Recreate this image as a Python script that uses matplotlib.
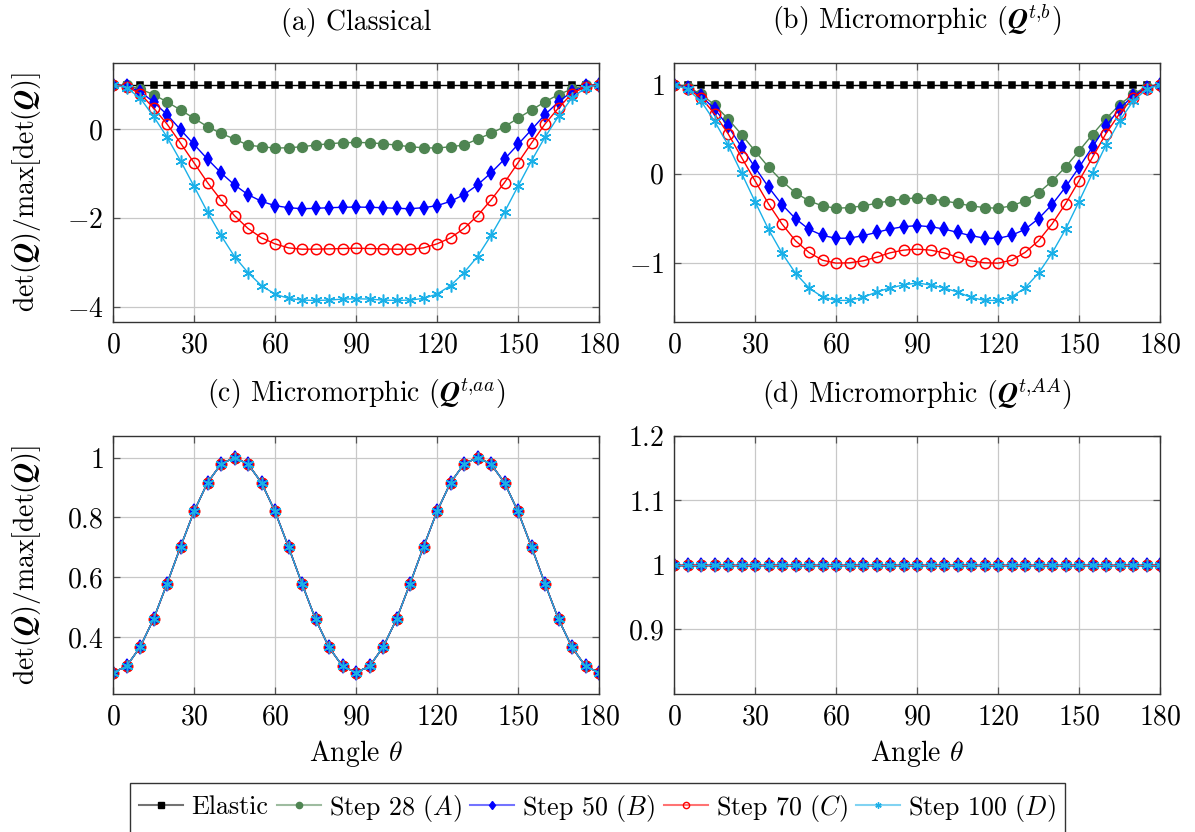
import matplotlib
matplotlib.use("Agg")
import matplotlib.pyplot as plt
from matplotlib.lines import Line2D
from matplotlib.ticker import FuncFormatter

plt.rcParams["font.family"] = ["cmr10"]
plt.rcParams["mathtext.fontset"] = "cm"
plt.rcParams["axes.formatter.use_mathtext"] = True

# ---- data: det(Q)/max[det(Q)] vs. angle ----
angles = [0, 5, 10, 15, 20, 25, 30, 35, 40, 45, 50, 55, 60, 65, 70, 75, 80, 85, 90,
          95, 100, 105, 110, 115, 120, 125, 130, 135, 140, 145, 150, 155, 160, 165, 170, 175, 180]

# (a) classical
elastic_a = [1.0] * 37
step28_a = [1.0, 0.98, 0.90, 0.776, 0.61, 0.429, 0.241, 0.052, -0.099, -0.227, -0.363, -0.40, -0.43,
            -0.423, -0.40, -0.363, -0.333, -0.31, -0.303, -0.31, -0.333, -0.363, -0.40, -0.423,
            -0.43, -0.40, -0.363, -0.227, -0.099, 0.052, 0.241, 0.429, 0.61, 0.776, 0.90, 0.98, 1.0]
step50_a = [1.0, 0.965, 0.844, 0.61, 0.324, -0.016, -0.348, -0.679, -0.989, -1.26, -1.479, -1.63,
            -1.728, -1.773, -1.796, -1.788, -1.773, -1.765, -1.758, -1.765, -1.773, -1.788, -1.796,
            -1.773, -1.728, -1.63, -1.479, -1.26, -0.989, -0.679, -0.348, -0.016, 0.324, 0.61,
            0.844, 0.965, 1.0]
step70_a = [1.0, 0.95, 0.799, 0.474, 0.112, -0.317, -0.762, -1.207, -1.60, -1.954, -2.241, -2.452,
            -2.588, -2.678, -2.708, -2.708, -2.70, -2.693, -2.686, -2.693, -2.70, -2.708, -2.708,
            -2.678, -2.588, -2.452, -2.241, -1.954, -1.60, -1.207, -0.762, -0.317, 0.112, 0.474,
            0.799, 0.95, 1.0]
step100_a = [1.0, 0.927, 0.701, 0.286, -0.182, -0.717, -1.29, -1.871, -2.399, -2.874, -3.236, -3.53,
             -3.719, -3.817, -3.855, -3.862, -3.855, -3.832, -3.825, -3.832, -3.855, -3.862, -3.855,
             -3.817, -3.719, -3.53, -3.236, -2.874, -2.399, -1.871, -1.29, -0.717, -0.182, 0.286,
             0.701, 0.927, 1.0]

# (b) micromorphic Q^{t,b}
elastic_b = [1.0] * 37
step28_b = [1.0, 0.977, 0.891, 0.774, 0.616, 0.44, 0.256, 0.075, -0.083, -0.214, -0.304, -0.361,
            -0.387, -0.38, -0.361, -0.331, -0.304, -0.282, -0.271, -0.282, -0.304, -0.331, -0.361,
            -0.38, -0.387, -0.361, -0.304, -0.214, -0.083, 0.075, 0.256, 0.44, 0.616, 0.774, 0.891,
            0.977, 1.0]
step50_b = [1.0, 0.966, 0.872, 0.729, 0.534, 0.301, 0.071, -0.15, -0.346, -0.504, -0.624, -0.691,
            -0.725, -0.722, -0.695, -0.658, -0.62, -0.594, -0.582, -0.594, -0.62, -0.658, -0.695,
            -0.722, -0.725, -0.691, -0.624, -0.504, -0.346, -0.15, 0.071, 0.301, 0.534, 0.729,
            0.872, 0.966, 1.0]
step70_b = [1.0, 0.955, 0.853, 0.673, 0.451, 0.184, -0.079, -0.338, -0.564, -0.752, -0.883, -0.97,
            -1.003, -0.999, -0.977, -0.936, -0.887, -0.857, -0.846, -0.857, -0.887, -0.936, -0.977,
            -0.999, -1.003, -0.97, -0.883, -0.752, -0.564, -0.338, -0.079, 0.184, 0.451, 0.673,
            0.853, 0.955, 1.0]
step100_b = [1.0, 0.947, 0.815, 0.59, 0.323, 0.008, -0.312, -0.624, -0.891, -1.116, -1.281, -1.383,
             -1.421, -1.421, -1.387, -1.327, -1.281, -1.248, -1.225, -1.248, -1.281, -1.327, -1.387,
             -1.421, -1.421, -1.383, -1.281, -1.116, -0.891, -0.624, -0.312, 0.008, 0.323, 0.59,
             0.815, 0.947, 1.0]

# (c) micromorphic Q^{t,aa}: all load steps coincide
curve_c = [0.283, 0.304, 0.367, 0.461, 0.579, 0.702, 0.82, 0.916, 0.978, 1.0, 0.978, 0.916, 0.82,
           0.702, 0.579, 0.461, 0.367, 0.304, 0.283, 0.304, 0.367, 0.461, 0.579, 0.702, 0.82,
           0.916, 0.978, 1.0, 0.978, 0.916, 0.82, 0.702, 0.579, 0.461, 0.367, 0.304, 0.283]

# (d) micromorphic Q^{t,AA}: constant
curve_d = [1.0] * 37

panels = [
    ("(a) Classical", [elastic_a, step28_a, step50_a, step70_a, step100_a], [-4, -2, 0], None),
    (r"(b) Micromorphic ($\boldsymbol{Q}^{t{,}b}$)",
     [elastic_b, step28_b, step50_b, step70_b, step100_b], [-1, 0, 1], None),
    (r"(c) Micromorphic ($\boldsymbol{Q}^{t{,}aa}$)", [curve_c] * 5, [0.4, 0.6, 0.8, 1], None),
    (r"(d) Micromorphic ($\boldsymbol{Q}^{t{,}AA}$)", [curve_d] * 5, [0.9, 1, 1.1, 1.2], (0.8, 1.2)),
]

series_labels = ["Elastic", r"Step 28 ($A$)", r"Step 50 ($B$)", r"Step 70 ($C$)", r"Step 100 ($D$)"]
colors = ["black", "#4f8552", "#0000ff", "#ff0000", "#1ab0e8"]
markers = ["s", "o", "d", "o", (6, 2, 0)]
msizes = [5, 7, 7, 7.5, 8.5]
faces = ["black", "#4f8552", "#0000ff", "none", "#1ab0e8"]

W, H = 1195, 832
fig = plt.figure(figsize=(W / 100, H / 100), dpi=100)

# axes boxes in pixels: left, top, right, bottom
boxes = [(113, 63, 599, 322), (674, 63, 1160, 322), (113, 436, 599, 694), (674, 436, 1160, 694)]
fs = 20
ylab = r"$\det(\boldsymbol{Q})/\max[\det(\boldsymbol{Q})]$"

for i, ((title, ys, yticks, ylim), (l, t, r, b)) in enumerate(zip(panels, boxes)):
    ax = fig.add_axes([l / W, 1 - b / H, (r - l) / W, (b - t) / H])
    for y, c, m, ms, fc in zip(ys, colors, markers, msizes, faces):
        ax.plot(angles, y, color=c, lw=1.0, marker=m, ms=ms, mfc=fc, mec=c, mew=1.1)
    ax.set_xlim(0, 180)
    ax.margins(y=0.1)
    if ylim:
        ax.set_ylim(*ylim)
    ax.set_xticks([0, 30, 60, 90, 120, 150, 180])
    ax.set_yticks(yticks)
    ax.xaxis.set_major_formatter(FuncFormatter(lambda v, _: f"${v:g}$"))
    ax.yaxis.set_major_formatter(FuncFormatter(lambda v, _: f"${v:g}$"))
    ax.grid(True, color="#c8c8c8", lw=0.9)
    ax.set_axisbelow(True)
    ax.tick_params(direction="in", length=5, width=0.9, color="#555555", labelsize=fs,
                   top=True, right=True, pad=7)
    for s in ax.spines.values():
        s.set_color("#333333")
        s.set_linewidth(1.0)
    ax.set_title(title, fontsize=fs, pad=24)
    if i % 2 == 0:
        ax.set_ylabel(ylab, fontsize=fs)
        ax.yaxis.set_label_coords(-0.145, 0.5)
    if i >= 2:
        ax.set_xlabel(r"Angle $\theta$", fontsize=fs, labelpad=6)

# legend: faded line, solid marker
handles = []
for c, m, fc in zip(colors, markers, faces):
    lc = matplotlib.colors.to_rgba(c, 0.55)
    handles.append(Line2D([], [], color=lc, lw=1.5, marker=m, ms=4.5, mfc=fc, mec=c, mew=1.0))
leg = fig.legend(handles, series_labels, loc="center", bbox_to_anchor=(0.5, 1 - 808 / H), ncol=5,
                 fontsize=18.7, frameon=True, fancybox=False, framealpha=1, edgecolor="#333333",
                 handlelength=1.7, handletextpad=0.3, columnspacing=0.33, borderpad=0.35,
                 borderaxespad=0)
leg.get_frame().set_linewidth(1.0)

fig.savefig("out.png", dpi=100)
